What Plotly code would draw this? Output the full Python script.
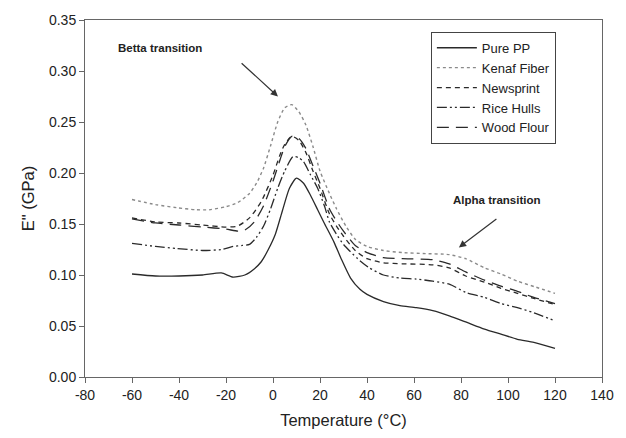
import plotly.graph_objects as go

# ---- data ----
pp_T = [-60, -50, -40, -30, -22, -17, -12, -8, -5, -2, 1, 4, 7, 10, 13, 16, 19, 22, 26, 29, 33, 37, 40, 47, 54, 61, 68, 75, 82, 90, 97, 104, 111, 120]
pp_E = [0.101, 0.099, 0.099, 0.100, 0.102, 0.098, 0.100, 0.106, 0.113, 0.125, 0.140, 0.163, 0.185, 0.195, 0.190, 0.178, 0.164, 0.150, 0.132, 0.116, 0.097, 0.086, 0.081, 0.074, 0.070, 0.068, 0.065, 0.060, 0.054, 0.047, 0.042, 0.037, 0.034, 0.028]

kenaf_T = [-60, -50, -41, -33, -27, -20, -15, -10, -7, -4, -1, 2, 5, 8, 11, 14, 17, 20, 24, 27, 31, 35, 40, 47, 55, 65, 75, 82, 90, 97, 104, 112, 120]
kenaf_E = [0.174, 0.169, 0.166, 0.164, 0.164, 0.167, 0.171, 0.180, 0.190, 0.205, 0.227, 0.250, 0.264, 0.267, 0.260, 0.247, 0.226, 0.202, 0.180, 0.165, 0.148, 0.135, 0.128, 0.124, 0.122, 0.121, 0.120, 0.116, 0.107, 0.101, 0.094, 0.088, 0.082]

news_T = [-60, -50, -40, -30, -20, -15, -10, -5, 0, 3, 5, 8, 11, 14, 17, 20, 24, 27, 30, 35, 40, 47, 55, 68, 75, 82, 90, 97, 104, 111, 120]
news_E = [0.156, 0.152, 0.151, 0.149, 0.147, 0.148, 0.156, 0.172, 0.198, 0.218, 0.228, 0.236, 0.232, 0.220, 0.202, 0.185, 0.160, 0.148, 0.138, 0.124, 0.116, 0.112, 0.111, 0.110, 0.107, 0.099, 0.093, 0.087, 0.082, 0.077, 0.071]

rice_T = [-60, -50, -41, -30, -22, -17, -13, -10, -7, -4, -1, 2, 5, 8.5, 11, 13, 16, 19, 22, 24, 27, 30, 36, 41, 47, 54, 61, 68, 75, 82, 90, 97, 104, 111, 120]
rice_E = [0.131, 0.128, 0.126, 0.124, 0.125, 0.128, 0.129, 0.130, 0.137, 0.148, 0.165, 0.185, 0.202, 0.216, 0.215, 0.211, 0.198, 0.185, 0.167, 0.152, 0.140, 0.130, 0.116, 0.107, 0.100, 0.097, 0.096, 0.094, 0.091, 0.083, 0.078, 0.072, 0.068, 0.063, 0.055]

wood_T = [-60, -50, -40, -30, -20, -15, -12, -8, -4, 0, 3, 5, 8, 11, 14, 17, 20, 24, 27, 30, 35, 40, 47, 55, 68, 75, 82, 90, 97, 104, 111, 120]
wood_E = [0.155, 0.151, 0.149, 0.147, 0.145, 0.143, 0.144, 0.152, 0.168, 0.192, 0.213, 0.226, 0.236, 0.234, 0.224, 0.207, 0.190, 0.165, 0.153, 0.143, 0.129, 0.122, 0.117, 0.116, 0.115, 0.111, 0.103, 0.095, 0.089, 0.084, 0.078, 0.072]

names = ["Pure PP", "Kenaf Fiber", "Newsprint", "Rice Hulls", "Wood Flour"]
x_ticks = [-80, -60, -40, -20, 0, 20, 40, 60, 80, 100, 120, 140]
y_ticks = [0.00, 0.05, 0.10, 0.15, 0.20, 0.25, 0.30, 0.35]

FONT = "Liberation Sans, Arial, sans-serif"
DARK = "#2a2a2a"

series = [
    (pp_T, pp_E, dict(color=DARK, width=1.3, dash="solid")),
    (kenaf_T, kenaf_E, dict(color="#8a8a8a", width=1.4, dash="dot")),
    (news_T, news_E, dict(color=DARK, width=1.3, dash="5px,4px")),
    (rice_T, rice_E, dict(color=DARK, width=1.3, dash="10px,3px,2px,3px,2px,3px")),
    (wood_T, wood_E, dict(color=DARK, width=1.3, dash="12px,7px")),
]

fig = go.Figure()
for (t, e, ln), nm in zip(series, names):
    fig.add_trace(go.Scatter(x=t, y=e, mode="lines", name=nm, line=dict(shape="spline", smoothing=0.6, **ln)))

axis_common = dict(
    showline=True, linecolor="#666", linewidth=1, mirror=True,
    ticks="outside", ticklen=5, tickcolor="#666", tickwidth=1,
    showgrid=False, zeroline=False,
    tickfont=dict(family=FONT, size=14, color="#222"),
)

fig.update_layout(
    width=626, height=438,
    margin=dict(l=85, r=24, t=14, b=61),
    paper_bgcolor="white", plot_bgcolor="white",
    font=dict(family=FONT, color="#222"),
    xaxis=dict(range=[-80, 140], tickvals=x_ticks, ticktext=[str(v) for v in x_ticks],
               title=dict(text="Temperature (°C)", font=dict(family=FONT, size=16.5), standoff=12),
               **axis_common),
    yaxis=dict(range=[0, 0.35], tickvals=y_ticks, ticktext=[f"{v:.2f}" for v in y_ticks],
               title=dict(text='E" (GPa)', font=dict(family=FONT, size=16.5), standoff=10),
               **axis_common),
    legend=dict(x=0.669, y=0.967, xanchor="left", yanchor="top",
                bordercolor="#444", borderwidth=1, bgcolor="white",
                font=dict(family=FONT, size=13, color="#222"),
                tracegroupgap=0, itemwidth=40),
    showlegend=True,
)

fig.add_annotation(x=2.1, y=0.275, ax=-14.0, ay=0.309, xref="x", yref="y", axref="x", ayref="y",
                   showarrow=True, arrowhead=2, arrowsize=1.2, arrowwidth=1.2, arrowcolor="#333", text="")
fig.add_annotation(x=-48, y=0.323, xref="x", yref="y", showarrow=False,
                   text="<b>Betta transition</b>", font=dict(family=FONT, size=11.5, color="#222"))
fig.add_annotation(x=79.1, y=0.127, ax=95.7, ay=0.156, xref="x", yref="y", axref="x", ayref="y",
                   showarrow=True, arrowhead=2, arrowsize=1.2, arrowwidth=1.2, arrowcolor="#333", text="")
fig.add_annotation(x=95.3, y=0.174, xref="x", yref="y", showarrow=False,
                   text="<b>Alpha transition</b>", font=dict(family=FONT, size=11.5, color="#222"))

# remove the browser's default 8px body margin so the figure sits at the page origin
fig.write_html("out.html", config={"displayModeBar": False},
               post_script="document.body.style.margin='0';document.body.style.overflow='hidden';")
